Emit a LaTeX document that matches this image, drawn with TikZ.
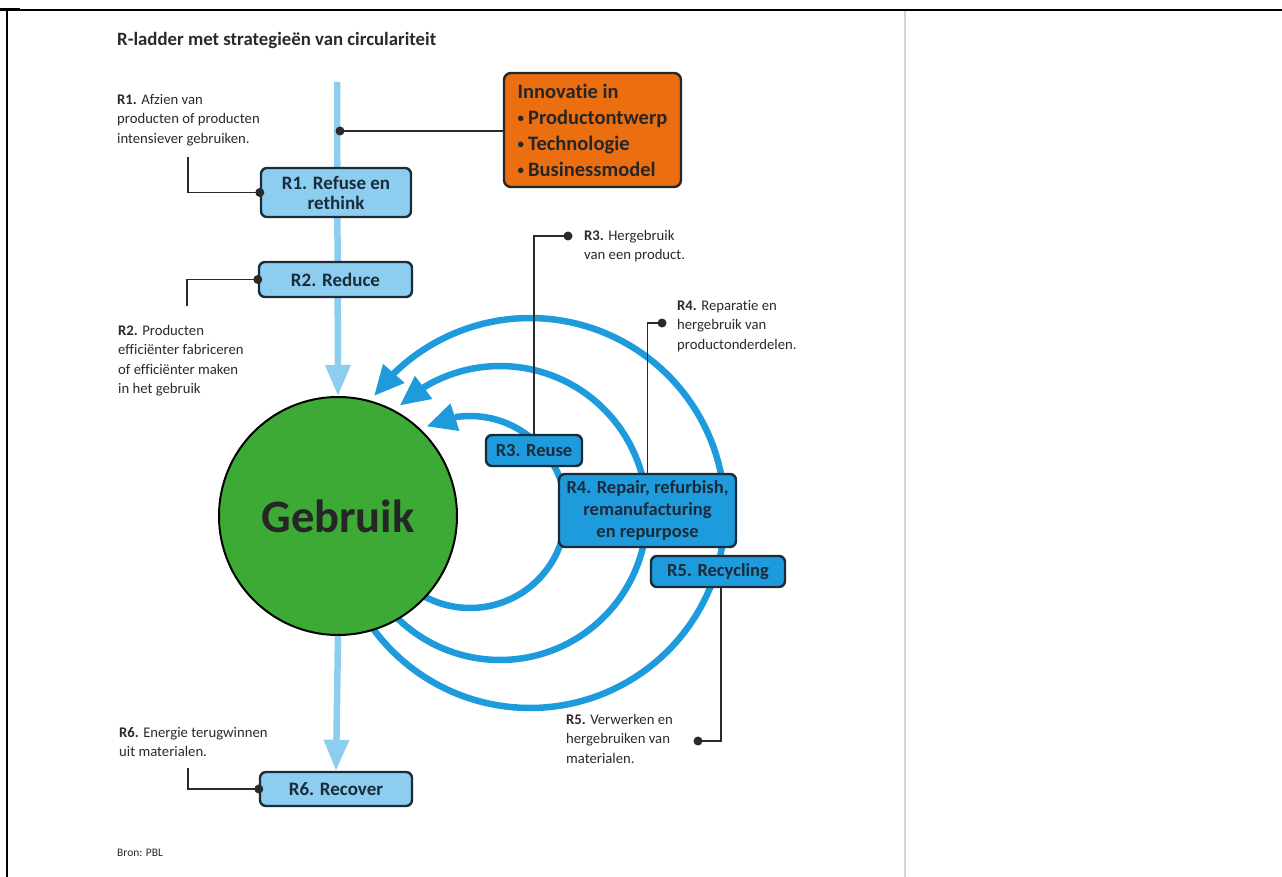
\documentclass[tikz,border=0pt]{standalone}
\usepackage{fontspec}
\setmainfont[Ligatures=NoCommon]{Carlito}
\usetikzlibrary{arrows.meta}
\definecolor{lblue}{HTML}{8DCEF0}
\definecolor{mblue}{HTML}{1E9BDC}
\definecolor{boxline}{HTML}{1A2B3A}
\definecolor{orng}{HTML}{EB6E10}
\definecolor{grn}{HTML}{3DAA35}
\definecolor{txt}{HTML}{2A2A2A}
\definecolor{framegray}{HTML}{D4D4D4}
\newcommand{\smallbul}{\raisebox{1.2pt}{\fontsize{13}{13}\selectfont•}\hspace{4pt}}
\begin{document}
\begin{tikzpicture}[x=1pt,y=-1pt,
  lbox/.style={draw=boxline, line width=2.4pt, fill=lblue, rounded corners=6pt, inner sep=0pt, align=center, font=\fontsize{19}{20}\selectfont\bfseries, text=boxline},
  mbox/.style={lbox, fill=mblue, font=\fontsize{18.5}{22}\selectfont\bfseries},
  desc/.style={anchor=north west, inner sep=0pt, align=left, font=\fontsize{14.7}{19.5}\selectfont, text=txt},
  call/.style={line width=1.3pt, draw=txt},
  dotmark/.style={circle, fill=txt, inner sep=0pt, minimum size=9pt},
  flow/.style={line width=6.5pt, draw=lblue},
  loopline/.style={line width=6.5pt, draw=mblue},
  loophead/.style={loopline, -{Triangle[length=30pt,width=27pt]}},
  flowhead/.style={flow, -{Triangle[length=31pt,width=24pt]}},
]
\useasboundingbox[fill=white] (0,0) rectangle (1282,877);
% frame
\draw[line width=1.7pt, black] (0,10) -- (1282,10);
\draw[line width=3pt, black] (0,10) -- (20,10);
\draw[line width=2.8pt, black] (905,10) -- (1282,10);
\draw[line width=1.5pt, black] (7,10) -- (7,877);
\draw[line width=1.5pt, framegray] (905,11) -- (905,877);

% title
\node[anchor=north west, inner sep=0pt, font=\fontsize{18.8}{22}\selectfont\bfseries, text=txt] (title) at (117,32) {R-ladder met strategieën van circulariteit};

% loops (arcs)
\draw[loopline] plot[domain=144:-134.3, samples=120] ({530+195*cos(\x)},{513+195*sin(\x)});
\draw[loophead] ({530+195*cos(-134.3)},{513+195*sin(-134.3)}) -- ({530+195*cos(-143.1)},{513+195*sin(-143.1)});
\draw[loopline] plot[domain=134:-121.3, samples=100] ({500+147*cos(\x)},{513+147*sin(\x)});
\draw[loophead] ({500+147*cos(-121.3)},{513+147*sin(-121.3)}) -- ({500+147*cos(-133)},{513+147*sin(-133)});
\draw[loopline] plot[domain=118:-99, samples=80] ({470+96*cos(\x)},{512+96*sin(\x)});
\draw[loophead] ({470+96*cos(-99)},{512+96*sin(-99)}) -- ({470+96*cos(-117)},{512+96*sin(-117)});

% central circle
\node[circle, draw=black, line width=2pt, fill=grn, minimum size=238pt, inner sep=0pt, text=black!85, font=\fontsize{46.5}{46}\selectfont\bfseries] (gebruik) at (338,516) {Gebruik};
\node[lbox, minimum width=152pt, minimum height=34pt] (r6) at (336,789) {R6. Recover};

% main flow
\coordinate (flowtop) at (337,82);
\draw[flowhead] (flowtop) -- (gebruik.north);
\draw[flowhead] (gebruik.south) -- (r6.north);

% boxes
\node[lbox, minimum width=150pt, minimum height=49pt] (r1) at (336,192.5) {R1. Refuse en\\rethink};
\node[lbox, minimum width=153pt, minimum height=35pt] (r2) at (335.5,279.5) {R2. Reduce};
\node[mbox, minimum width=96pt, minimum height=31pt] (r3) at (534,450.5) {R3. Reuse};
\node[mbox, minimum width=177pt, minimum height=73pt] (r4) at (647.5,510.5) {R4. Repair, refurbish,\\remanufacturing\\en repurpose};
\node[mbox, minimum width=134pt, minimum height=31pt] (r5) at (718,571.5) {R5. Recycling};
\node[draw=black!85, line width=2.4pt, fill=orng, rounded corners=7pt, minimum width=177pt, minimum height=114pt, inner sep=0pt, align=left, text=black!85, font=\fontsize{20.5}{26}\selectfont\bfseries] (orange) at (592.5,130) {Innovatie in\\\smallbul Productontwerp\\\smallbul Technologie\\\smallbul Businessmodel};

% callouts
\coordinate (c1) at (188,157);
\coordinate (c2) at (187,306);
\coordinate (c6) at (188,768);
\coordinate (d3) at (568,236);
\coordinate (d4) at (662,323);
\coordinate (d5) at (698,741);
\coordinate (d0) at (340,131);
\draw[call] (c1) |- (r1.west);
\draw[call] (c2) |- (r2.west);
\draw[call] (c6) |- (r6.west);
\draw[call] (r3.north) |- (d3);
\draw[call] (r4.north) |- (d4);
\draw[call] ([xshift=3pt]r5.south) |- (d5);
\draw[call] (d0) -- (orange.west |- d0);
\node[dotmark] at (r1.west) {};
\node[dotmark] at (r2.west) {};
\node[dotmark] at (r6.west) {};
\node[dotmark] at (d3) {};
\node[dotmark] at (d4) {};
\node[dotmark] at (d5) {};
\node[dotmark] at (d0) {};

% descriptions
\node[desc] (t1) at (117,94) {\textbf{R1.} Afzien van\\producten of producten\\intensiever gebruiken.};
\node[desc] (t2) at (118,325) {\textbf{R2.} Producten\\efficiënter fabriceren\\of efficiënter maken\\in het gebruik};
\node[desc] (t3) at (584,230) {\textbf{R3.} Hergebruik\\van een product.};
\node[desc] (t4) at (677,300) {\textbf{R4.} Reparatie en\\hergebruik van\\productonderdelen.};
\node[desc] (t5) at (566,714) {\textbf{R5.} Verwerken en\\hergebruiken van\\materialen.};
\node[desc] (t6) at (119,727) {\textbf{R6.} Energie terugwinnen\\uit materialen.};
\node[anchor=north west, inner sep=0pt, font=\fontsize{11.5}{13}\selectfont, text=txt] (bron) at (117,849) {Bron: PBL};
\end{tikzpicture}
\end{document}
